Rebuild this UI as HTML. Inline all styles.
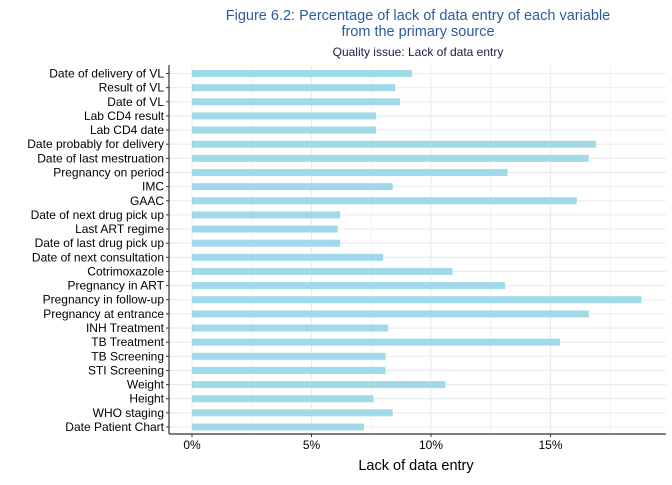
<!DOCTYPE html>
<html><head><meta charset="utf-8"><style>
body{margin:0;background:#fff;font-family:"Liberation Sans",Arial,sans-serif}
</style></head><body>
<svg id="c" width="672" height="480" xmlns="http://www.w3.org/2000/svg">
<text x="418" y="20" text-anchor="middle" font-size="14.5" fill="#2b5d9c">Figure 6.2: Percentage of lack of data entry of each variable</text>
<text x="418" y="36" text-anchor="middle" font-size="14.5" fill="#2b5d9c">from the primary source</text>
<text x="418" y="56" text-anchor="middle" font-size="12" fill="#1a1a4a">Quality issue: Lack of data entry</text>
<g id="grid"></g><g id="bars"></g><g id="axes"></g>
<text x="416" y="470" text-anchor="middle" font-size="14.5" fill="#000">Lack of data entry</text>
</svg>
<script>
const categories=["Date of delivery of VL","Result of VL","Date of VL","Lab CD4 result","Lab CD4 date","Date probably for delivery","Date of last mestruation","Pregnancy on period","IMC","GAAC","Date of next drug pick up","Last ART regime","Date of last drug pick up","Date of next consultation","Cotrimoxazole","Pregnancy in ART","Pregnancy in follow-up","Pregnancy at entrance","INH Treatment","TB Treatment","TB Screening","STI Screening","Weight","Height","WHO staging","Date Patient Chart"];
const values=[9.2,8.5,8.7,7.7,7.7,16.9,16.6,13.2,8.4,16.1,6.2,6.1,6.2,8.0,10.9,13.1,18.8,16.6,8.2,15.4,8.1,8.1,10.6,7.6,8.4,7.2];
const ticks=[0,5,10,15];
const tickLabels=["0%","5%","10%","15%"];
const NS="http://www.w3.org/2000/svg";
const L=169,R=666,T=65,B=434;
const x=v=>192+v*23.9;
const y=i=>73.5+i*((427-73.5)/(categories.length-1));
function mk(t,a,p){const e=document.createElementNS(NS,t);for(const k in a)e.setAttribute(k,a[k]);p.appendChild(e);return e;}
const g=document.getElementById('grid'),b=document.getElementById('bars'),ax=document.getElementById('axes');
for(let v=0;v<=20;v+=2.5){if(x(v)>R)break;const l=mk('line',{x1:x(v),x2:x(v),y1:T,y2:B,stroke:'#ebebeb','stroke-width':v%5?0.6:1.1},g);

}
categories.forEach((c,i)=>{const l=mk('line',{x1:L,x2:R,y1:y(i),y2:y(i),stroke:'#ebebeb','stroke-width':1.1},g);


const r=mk('rect',{x:x(0),y:y(i)-3.5,width:x(values[i])-x(0),height:7,fill:'#a2d9e8'},b);


const tk=mk('line',{x1:L-3,x2:L,y1:y(i),y2:y(i),stroke:'#333'},ax);


const t=mk('text',{x:L-5,y:y(i)+4,'text-anchor':'end','font-size':12,fill:'#000'},ax);t.textContent=c;

});
ticks.forEach((v,i)=>{const tk=mk('line',{x1:x(v),x2:x(v),y1:B,y2:B+3,stroke:'#333'},ax);


const t=mk('text',{x:x(v),y:B+15,'text-anchor':'middle','font-size':12,fill:'#000'},ax);t.textContent=tickLabels[i];

});
const yl=mk('line',{x1:L,x2:L,y1:T,y2:B,stroke:'#333','stroke-width':1.2},ax);


const xl=mk('line',{x1:L,x2:R,y1:B,y2:B,stroke:'#333','stroke-width':1.2},ax);


</script>
</body></html>
